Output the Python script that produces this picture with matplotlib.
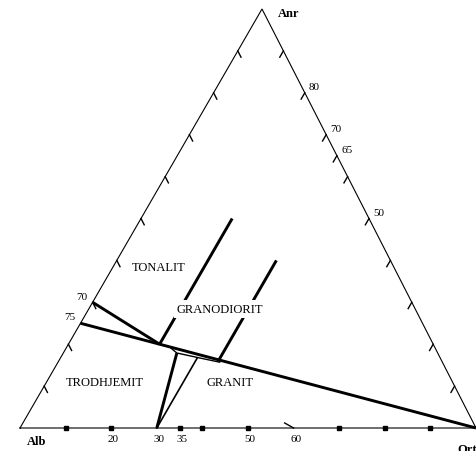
import matplotlib
matplotlib.use("Agg")
import matplotlib.pyplot as plt
import numpy as np

# ---------------- data (compositions as (An, Ab, Or) in %) ----------------
vertex_names = ["Alb", "Ort", "Anr"]

line_tonalite_trondhjemite = [(30, 70, 0), (20, 60, 20)]
line_main = [(25, 75, 0), (0, 0, 100)]
line_trondhjemite_granite = [(0, 70, 30), (17.9, 57.2, 24.9)]
line_or30 = [(0, 70, 30), (16.7, 53.3, 30)]
line_or20 = [(20, 60, 20), (50, 30, 20)]
line_or35 = [(16.25, 48.75, 35), (40, 25, 35)]
loop_outline = [(20, 60, 20), (16.25, 48.75, 35), (15.7, 48.8, 35.5),
                (16.7, 52.7, 30.6), (17.9, 57.2, 24.9), (19.3, 58.1, 22.6),
                (20, 60, 20)]

field_names = ["TONALIT", "GRANODIORIT", "TRODHJEMIT", "GRANIT"]
field_comps = [(38.4, 51.5, 10.1), (28.4, 42.8, 28.8),
               (11.0, 76.2, 12.8), (11.0, 48.8, 40.2)]

left_tick_an = [10, 20, 30, 40, 50, 60, 70, 80, 90]
right_tick_an = [90, 80, 70, 65, 60, 50, 40, 30, 20, 10]
bottom_dot_or = [10, 20, 35, 40, 50, 70, 80, 90]
bottom_slash_or = [60]

bottom_labels = [20, 30, 35, 50, 60]        # Or %
left_labels = [70, 75]                      # Ab % on Ab-An edge
right_labels = [80, 70, 65, 50]             # An % on An-Or edge

# ---------------- layout ----------------
W, H = 477, 452
P_ALB = np.array([20.0, 429.0])
P_ORT = np.array([476.0, 429.0])
P_ANR = np.array([262.0, 10.0])


def tern(an, ab, orr):
    s = an + ab + orr
    return (P_ALB * ab + P_ORT * orr + P_ANR * an) / s


def path(comps):
    pts = np.array([tern(*c) for c in comps])
    return pts[:, 0], pts[:, 1]


fig = plt.figure(figsize=(W / 100, H / 100), dpi=100)
ax = fig.add_axes([0, 0, 1, 1])
ax.set_xlim(0, W)
ax.set_ylim(H, 0)
ax.axis("off")

serif = ["Liberation Serif", "DejaVu Serif"]

# triangle
tri = [(0, 100, 0), (0, 0, 100), (100, 0, 0), (0, 100, 0)]
x, y = path(tri)
ax.plot(x, y, color="black", lw=0.8, solid_joinstyle="miter", zorder=2)

# thick boundary lines
for ln in [line_tonalite_trondhjemite, line_main, line_trondhjemite_granite,
           line_or20, line_or35]:
    x, y = path(ln)
    ax.plot(x, y, color="black", lw=2.1, solid_capstyle="butt", zorder=3)

# thin line
x, y = path(line_or30)
ax.plot(x, y, color="black", lw=1.2, zorder=3)

# small loop
x, y = path(loop_outline)
ax.plot(x, y, color="black", lw=1.0, zorder=3)

# ticks on left edge (parallel to the right edge)
d = 1.5
for an in left_tick_an:
    ab = 100 - an
    x, y = path([(an, ab, 0), (an - d, ab, d)])
    ax.plot(x, y, color="black", lw=1.0, zorder=2)

# ticks on right edge (parallel to the left edge)
for an in right_tick_an:
    orr = 100 - an
    x, y = path([(an, 0, orr), (an - d, d, orr)])
    ax.plot(x, y, color="black", lw=1.0, zorder=2)

# bottom dots
x, y = path([(0, 100 - o, o) for o in bottom_dot_or])
ax.plot(x, y, ls="none", marker="s", ms=2.3, color="black", zorder=3)
for o in bottom_slash_or:
    x, y = path([(0, 100 - o, o), (1.2, 100 - o + 1.4, o - 2.6)])
    ax.plot(x, y, color="black", lw=1.0, zorder=3)

# field labels (white boxes interrupt the lines as in the original)
for name, c in zip(field_names, field_comps):
    px, py = tern(*c)
    ax.text(px, py, name, fontsize=9, family=serif, ha="center", va="center",
            zorder=5,
            bbox=dict(boxstyle="square,pad=0.25", fc="white", ec="none"))

# vertex labels
vx = [P_ALB, P_ORT, P_ANR]
voff = [(5, -9.5), (-13.5, -15), (11.5, -3)]
for name, p, off in zip(vertex_names, vx, voff):
    ax.annotate(name, xy=p, xytext=off, textcoords="offset points",
                fontsize=9, fontweight="bold", family=serif,
                ha="left", va="center", zorder=6)

# bottom numbers
for v in bottom_labels:
    p = tern(0, 100 - v, v)
    ax.annotate(str(v), xy=p, xytext=(1.5, -7.5), textcoords="offset points",
                fontsize=8, family=serif, ha="center", va="center", zorder=6)

# left numbers
for v in left_labels:
    p = tern(100 - v, v, 0)
    ax.annotate(str(v), xy=p, xytext=(-4, 4.5), textcoords="offset points",
                fontsize=8, family=serif, ha="right", va="center", zorder=6)

# right numbers
for v in right_labels:
    p = tern(v, 0, 100 - v)
    ax.annotate(str(v), xy=p, xytext=(3, 4.5), textcoords="offset points",
                fontsize=8, family=serif, ha="left", va="center", zorder=6)

fig.savefig("out.png", dpi=100)
